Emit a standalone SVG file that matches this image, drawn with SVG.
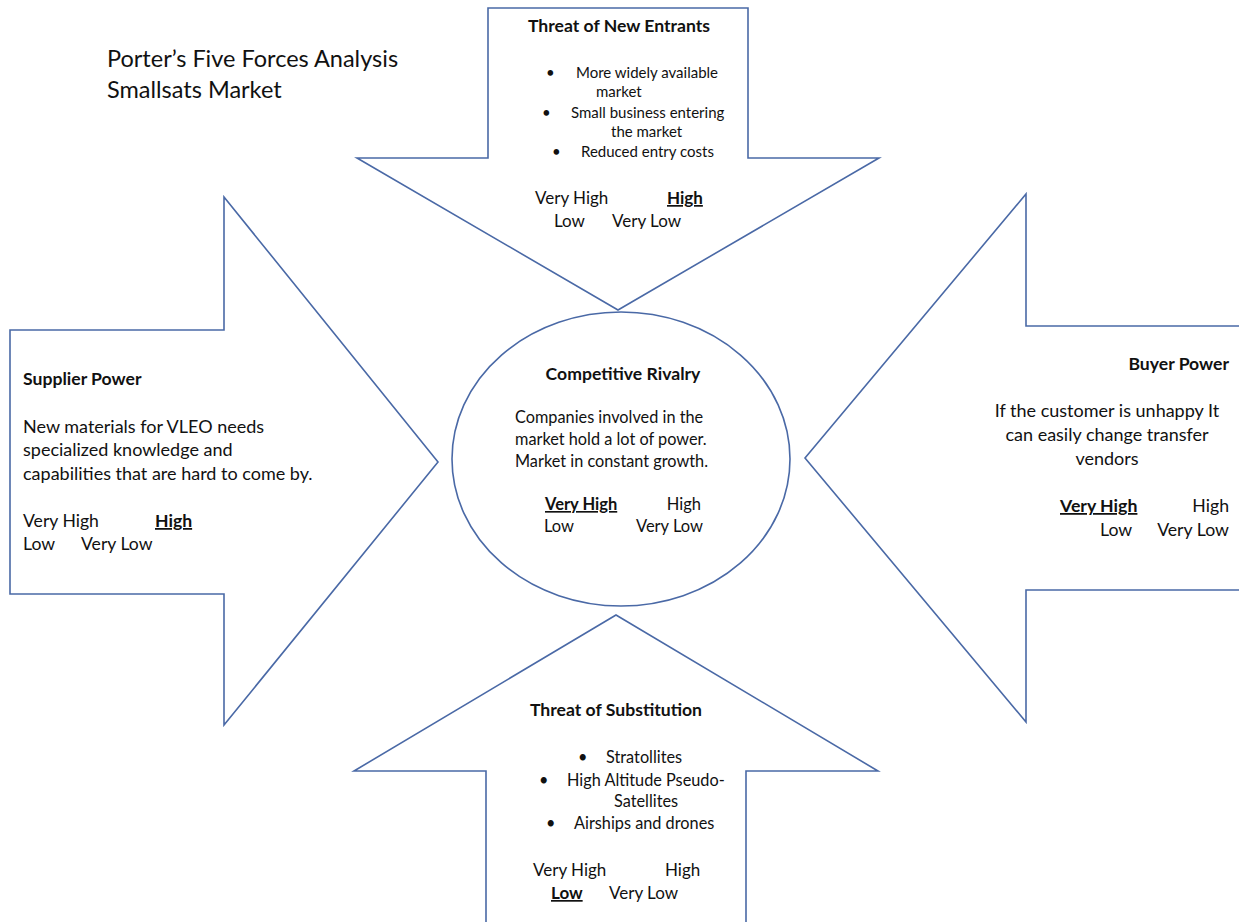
<svg xmlns="http://www.w3.org/2000/svg" width="1239" height="922" viewBox="0 0 1239 922">
  <style>
    .shape { fill: #ffffff; stroke: #4a69a6; stroke-width: 1.6; stroke-linejoin: miter; }
    text { font-family: Lato, "Open Sans", "Liberation Sans", sans-serif; fill: #111111; }
    .title { font-size: 23.5px; }
    .head { font-size: 17.6px; font-weight: bold; }
    .sel { font-weight: bold; text-decoration: underline; }
    .mid { text-anchor: middle; }
    .end { text-anchor: end; }
    #new-entrants .item { font-size: 15px; }
    #new-entrants .rate { font-size: 17px; }
    #supplier-power .body { font-size: 18px; }
    #supplier-power .rate { font-size: 17.6px; }
    #buyer-power .body { font-size: 18px; }
    #buyer-power .rate { font-size: 17.7px; }
    #substitution .item { font-size: 16.3px; }
    #substitution .rate { font-size: 17px; }
    #competitive-rivalry .body { font-size: 16.3px; }
    #competitive-rivalry .rate { font-size: 16.5px; }
  </style>
  <defs>
    <clipPath id="clip-entrants">
      <rect x="480" y="0" width="280" height="229"/>
    </clipPath>
  </defs>

  <rect width="1239" height="922" fill="#ffffff"/>

  <!-- heading -->
  <g id="title">
    <text class="title" x="107" y="67">Porter’s Five Forces Analysis</text>
    <text class="title" x="107" y="98">Smallsats Market</text>
  </g>

  <!-- top arrow, pointing down -->
  <g id="new-entrants">
    <polygon class="shape" points="488,8 748,8 748,158 879,158 618,310 357,158 488,158"/>
    <g clip-path="url(#clip-entrants)">
      <text class="head mid" x="619" y="32">Threat of New Entrants</text>
      <text class="item" x="546" y="78">•</text>
      <text class="item" x="576" y="78">More widely available</text>
      <text class="item" x="596" y="97">market</text>
      <text class="item" x="542" y="118">•</text>
      <text class="item" x="571" y="118">Small business entering</text>
      <text class="item" x="611" y="137">the market</text>
      <text class="item" x="552" y="157">•</text>
      <text class="item" x="581" y="157">Reduced entry costs</text>
      <text class="rate" x="535" y="204">Very High</text>
      <text class="rate sel" x="667" y="204">High</text>
      <text class="rate" x="554" y="227">Low</text>
      <text class="rate" x="612" y="227">Very Low</text>
    </g>
  </g>

  <!-- left arrow, pointing right -->
  <g id="supplier-power">
    <polygon class="shape" points="10,330 224,330 224,197 438,462 224,725 224,594 10,594"/>
    <text class="head" x="23" y="385">Supplier Power</text>
    <text class="body" x="23" y="433">New materials for VLEO needs</text>
    <text class="body" x="23" y="456">specialized knowledge and</text>
    <text class="body" x="23" y="480">capabilities that are hard to come by.</text>
    <text class="rate" x="23" y="527">Very High</text>
    <text class="rate sel" x="155" y="527">High</text>
    <text class="rate" x="23" y="550">Low</text>
    <text class="rate" x="81" y="550">Very Low</text>
  </g>

  <!-- right arrow, pointing left -->
  <g id="buyer-power">
    <polygon class="shape" points="1245,326 1026,326 1026,194 805,458 1026,722 1026,590 1245,590"/>
    <text class="head end" x="1229" y="370">Buyer Power</text>
    <text class="body mid" x="1107" y="417">If the customer is unhappy It</text>
    <text class="body mid" x="1107" y="441">can easily change transfer</text>
    <text class="body mid" x="1107" y="465">vendors</text>
    <text class="rate sel" x="1060" y="512">Very High</text>
    <text class="rate end" x="1229" y="512">High</text>
    <text class="rate" x="1100" y="536">Low</text>
    <text class="rate end" x="1229" y="536">Very Low</text>
  </g>

  <!-- bottom arrow, pointing up -->
  <g id="substitution">
    <polygon class="shape" points="486,930 486,771 354,771 616,615 878,771 746,771 746,930"/>
    <text class="head mid" x="616" y="716">Threat of Substitution</text>
    <text class="item" x="578" y="763">•</text>
    <text class="item" x="606" y="763">Stratollites</text>
    <text class="item" x="539" y="786">•</text>
    <text class="item" x="567" y="786">High Altitude Pseudo-</text>
    <text class="item" x="614" y="807">Satellites</text>
    <text class="item" x="546" y="829">•</text>
    <text class="item" x="574" y="829">Airships and drones</text>
    <text class="rate" x="533" y="876">Very High</text>
    <text class="rate" x="665" y="876">High</text>
    <text class="rate sel" x="551" y="899">Low</text>
    <text class="rate" x="609" y="899">Very Low</text>
  </g>

  <!-- centre ellipse -->
  <g id="competitive-rivalry">
    <ellipse class="shape" cx="621" cy="459" rx="169" ry="147"/>
    <text class="head mid" x="623" y="380">Competitive Rivalry</text>
    <text class="body" x="515" y="423">Companies involved in the</text>
    <text class="body" x="515" y="445">market hold a lot of power.</text>
    <text class="body" x="515" y="467">Market in constant growth.</text>
    <text class="rate sel" x="545" y="510">Very High</text>
    <text class="rate end" x="701" y="510">High</text>
    <text class="rate" x="544" y="532">Low</text>
    <text class="rate end" x="703" y="532">Very Low</text>
  </g>

  <!-- no connectors: the arrows themselves carry the forces -->
  <g id="connectors"/>
</svg>
